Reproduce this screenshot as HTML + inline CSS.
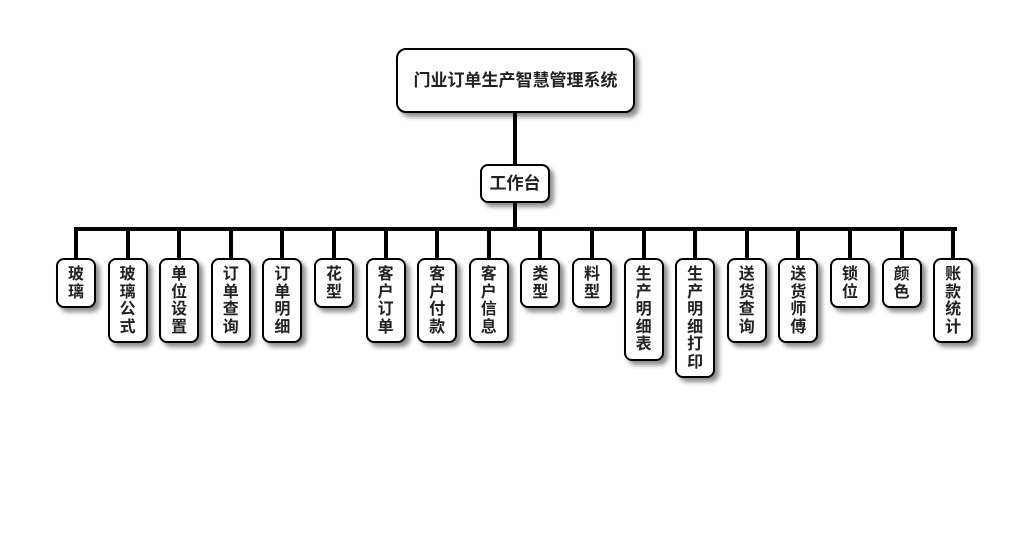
<!DOCTYPE html>
<html><head><meta charset="utf-8"><style>
body{margin:0;width:1030px;height:560px;background:#fff;position:relative;overflow:hidden;font-family:"Liberation Sans","Noto Sans CJK SC",sans-serif;font-weight:bold;color:#222}
.b{position:absolute;background:#fff;border:2px solid #000;border-radius:8px;box-shadow:4px 4px 5px rgba(0,0,0,0.45);box-sizing:border-box;text-align:center}
.l{position:absolute;background:#000}
.leaf{width:40px;top:258px;font-size:16px;line-height:17.5px;padding-top:6px}
</style></head><body>
<div class="b" style="left:396px;top:48px;width:239px;height:65px;font-size:17px;line-height:61px;border-radius:10px">门业订单生产智慧管理系统</div>
<div class="l" style="left:513px;top:112px;width:4px;height:53px"></div>
<div class="b" style="left:480px;top:164px;width:70px;height:39px;font-size:17px;line-height:35px">工作台</div>
<div class="l" style="left:513px;top:202px;width:4px;height:28px"></div>
<div class="l" style="left:74px;top:227px;width:883px;height:4px"></div>
<div id="c"></div>
<script>
var n=["玻璃","玻璃公式","单位设置","订单查询","订单明细","花型","客户订单","客户付款","客户信息","类型","料型","生产明细表","生产明细打印","送货查询","送货师傅","锁位","颜色","账款统计"];
var h="";
n.forEach(function(s,i){var cx=76+i*51.6;var hh=Math.round(s.length*17.5+15);
h+='<div class="l" style="left:'+(cx-2)+'px;top:229px;width:4px;height:30px"></div>';
h+='<div class="b leaf" style="left:'+(cx-20)+'px;height:'+hh+'px">'+s.split("").join("<br>")+'</div>';});
document.getElementById("c").innerHTML=h;
</script>
</body></html>
